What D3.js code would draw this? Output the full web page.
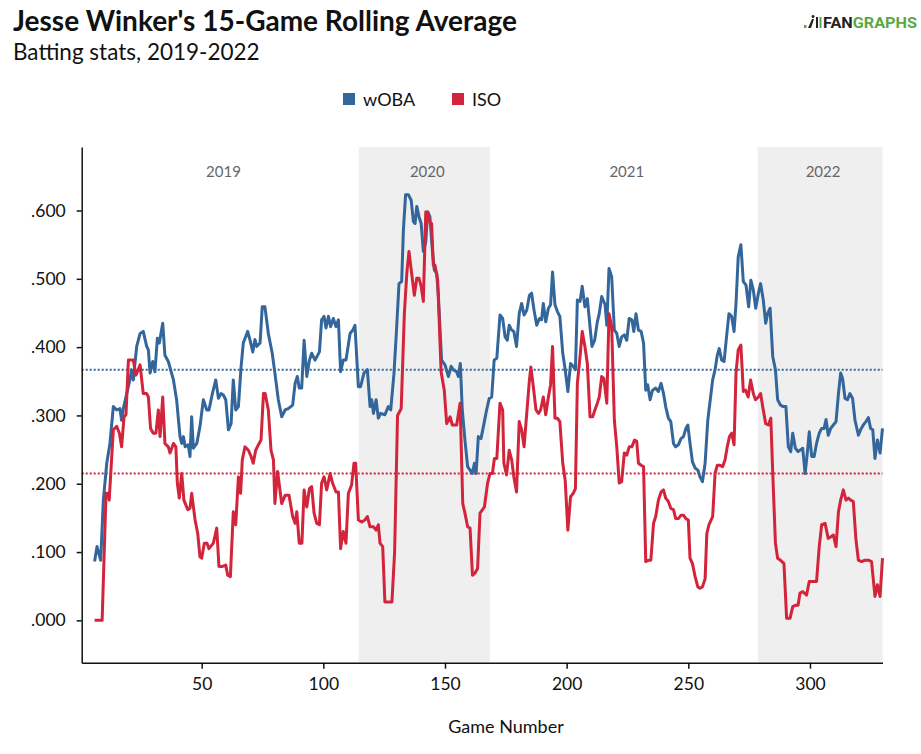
<!DOCTYPE html>
<html>
<head>
<meta charset="utf-8">
<script src="https://cdn.jsdelivr.net/npm/d3@7"></script>
<style>
  html, body { margin: 0; padding: 0; background: #fff; }
  svg { display: block; font-family: Lato, "Noto Sans", sans-serif; }
</style>
</head>
<body>
<svg id="chart" width="921" height="754"></svg>
<script>
// ---------- data ----------
const wobaGame = [6.0,7.0,8.5,9.6,11,12.3,13.7,15.1,16.4,17.1,17.8,19.2,20.5,21.2,21.9,23.3,24.7,26,27.4,28.1,28.8,29.9,30.8,31.8,32.6,34,34.9,36.3,38.4,39.7,41.1,41.8,42.5,
43.2,44.5,45.2,45.9,46.6,48,49.3,50.7,52.1,53,54.4,55.8,56.9,58,58.9,59.9,61,62.1,63,64,65.1,66.2,67.1,68.9,69.9,71,71.9,72.6,74,74.9,76,77.4,79,80.1,81.5,82.9,84.3,85.6,
87.4,88.4,89.3,90.1,91.1,92.1,93.2,94.3,95.2,96.6,98.4,99.3,100.3,101.1,102.1,103,104.1,105.2,106.2,107.1,108.2,109.3,111,112.1,113,114.4,115.3,116.7,118.1,119.2,119.9,120.6,121.7,122.6,123.6,125.3,126.7,127.7,129.0,130.0,
131.1,132.2,132.9,133.8,135,136.1,137,137.7,138.4,139.3,140.2,141.1,142.1,142.9,143.8,144.8,145.6,146.6,147.3,148.6,150,151.4,152.5,153.4,154.8,155.5,156.3,157.1,158.2,159.3,160.3,161.2,162.1,162.8,163.7,164.8,165.8,167.1,168.2,169.2,170.2,171.3,
172.6,173.7,174.7,175.6,176.4,177.4,178.3,179.4,180.5,181.5,182.5,183.6,184.7,185.6,186.6,187.7,188.8,189.7,190.4,191.4,192.5,193.4,194.2,195.2,196.2,197.2,198.4,199.4,200.5,201.6,202.7,203.6,204.4,205.5,206.4,207.5,208.5,209.6,210.4,211.5,212.6,213.4,214.4,
215.8,216.5,217.4,218.5,219.6,220.6,221.6,222.6,223.7,224.7,225.7,226.8,227.6,228.5,229.5,230.6,231.6,232.5,233.3,234.3,235.3,236.6,237.7,238.8,239.8,240.7,241.8,242.8,243.9,244.8,245.9,247,248,249,249.8,250.7,251.7,252.8,253.9,254.8,255.8,256.9,258,
260,261,261.9,262.7,263.7,264.7,265.7,266.7,267.8,268.8,269.6,270.5,271.6,272.6,273.7,274.8,275.7,276.7,277.7,278.8,279.7,280.8,281.8,282.6,283.6,284.7,285.8,286.7,287.9,289,290.1,291.1,292.1,292.9,294,295.1,
297,298,298.9,299.7,300.7,301.7,302.7,303.8,304.8,305.8,306.6,307.5,308.5,309.6,310.7,311.7,312.6,313.4,314.4,315.4,316.4,317.5,318.5,319.9,320.8,321.9,323,324,324.9,325.8,326.7,327.7,328.8,329.8];
const wobaValue = [.086,.108,.088,.176,.230,.259,.313,.308,.310,.293,.310,.332,.352,.367,.352,.401,.420,.423,.401,.396,.362,.379,.364,.413,.406,.435,.388,.379,.352,.323,.269,.259,.269,
.254,.257,.240,.298,.252,.259,.284,.323,.308,.308,.332,.352,.325,.332,.330,.323,.279,.288,.352,.308,.313,.371,.406,.423,.410,.393,.411,.401,.406,.459,.459,.420,.391,.362,.323,.298,.308,.310,
.315,.347,.357,.340,.340,.410,.357,.381,.391,.381,.393,.440,.445,.428,.445,.430,.442,.430,.440,.364,.381,.381,.420,.425,.432,.342,.342,.362,.367,.313,.323,.303,.323,.296,.303,.301,.313,.308,.360,.420,
.493,.496,.571,.623,.623,.615,.584,.581,.606,.591,.581,.540,.554,.598,.591,.542,.513,.508,.474,.381,.374,.357,.372,.367,.364,.357,.376,.308,.264,.225,.220,.215,.230,.215,.269,.266,.284,.308,.325,.327,.381,.384,
.447,.442,.415,.410,.432,.425,.423,.401,.449,.464,.447,.454,.476,.479,.454,.432,.442,.440,.464,.437,.457,.462,.510,.462,.452,.445,.391,.367,.335,.376,.372,.367,.469,.467,.489,.459,.471,.430,.401,.410,.437,.449,.474,
.462,.432,.515,.503,.425,.420,.401,.415,.418,.410,.442,.440,.423,.449,.425,.423,.406,.337,.345,.323,.337,.340,.335,.347,.332,.313,.296,.291,.259,.254,.257,.266,.269,.281,.286,.259,.232,.223,.220,.210,.203,.230,.293,
.352,.367,.388,.398,.381,.379,.415,.449,.445,.423,.464,.532,.550,.496,.491,.459,.498,.484,.457,.479,.493,.469,.435,.449,.457,.386,.367,.323,.315,.313,.313,.254,.247,.274,.252,.247,
.252,.215,.245,.276,.240,.240,.259,.274,.281,.281,.294,.271,.281,.286,.291,.332,.362,.354,.325,.323,.332,.325,.293,.271,.279,.286,.291,.297,.281,.279,.237,.264,.245,.281];

const isoGame = [6.0,9.1,10.7,11.6,12,13.7,15.1,16.2,17.1,18.1,18.9,19.9,21.9,23,24.7,26,27.4,28.1,29,30.1,31.2,32.2,32.9,34,34.9,36.3,37,38.4,39.4,40,40.8,41.8,42.7,
44.3,45.2,45.9,47.3,48.4,49.3,50,51.1,52.2,53,54.8,56.2,57.1,58.5,59.9,60.7,61.8,63,64,65.1,66,66.7,67.8,69.2,70.3,71.2,72.2,73.3,74.4,75.4,76.1,77.4,78.5,79.5,80.1,81.2,82.9,84.3,85.9,
87.4,88.4,89.1,90.1,91.2,92.1,93.2,94.3,95.2,96.2,97.3,98.4,99.3,100.3,101.4,102.8,103.8,105.2,106.2,107.1,108.2,109.3,110.3,111.6,112.6,113.3,114.4,115.8,117.1,118.1,119.2,120.6,121.7,122.6,123.3,124.4,125.3,128.2,129.3,130.5,
132,133.3,134.3,135.2,136.3,137.4,138.4,139.3,140.2,141.1,142.1,142.9,143.9,144.5,145.2,145.9,147,148.4,149.7,150.7,152.1,153,154.8,156.2,157.3,158.2,159.3,160.3,161.3,162.3,163.4,164.4,166.2,167.5,168.5,169.5,170.3,171.3,
172.6,173.7,174.2,175.3,176.4,177.4,178.3,179.4,180.5,181.5,182.5,183.6,184.7,185.3,186.3,187.4,188.4,189.3,190.4,191.4,192.5,193.4,194.2,195.2,196.2,197.2,198.4,199.4,200.5,201.6,202.7,203.6,204.4,205.5,206.4,207.5,208.5,209.6,210.7,211.6,212.6,213.4,214.4,215.3,
216.5,217.4,218.5,219.6,220.6,221.6,222.6,223.7,224.7,225.7,226.8,227.9,228.8,229.5,230.6,231.6,232.5,233.6,234.6,235.7,236.6,237.7,238.8,239.8,240.7,241.8,242.8,243.9,244.8,245.9,247,248,249,250,250.7,251.7,252.8,253.9,254.8,255.8,256.9,257.6,258.5,
260,261,261.9,263,264.1,265.1,266,266.9,267.8,268.8,269.6,270.5,271.6,272.6,273.5,274.6,275.6,276.7,277.6,278.8,279.7,280.8,281.8,282.9,283.9,284.7,285.8,286.7,287.9,289.3,290.4,291.8,292.9,294,295.1,295.9,
297,298.6,299.7,301.4,302.7,303.8,304.8,306.2,307.5,308.5,309.6,310.7,311.7,312.6,313.7,314.8,315.8,316.7,317.8,318.9,319.9,321.2,322.6,324,325.3,326.7,327.7,328.8,329.8];
const isoValue = [0,0,.186,.186,.176,.279,.284,.274,.254,.298,.301,.381,.381,.359,.374,.332,.332,.327,.281,.274,.274,.308,.269,.327,.259,.254,.245,.259,.254,.201,.179,.215,.176,
.162,.164,.186,.147,.127,.093,.091,.113,.113,.105,.113,.135,.079,.079,.081,.066,.064,.159,.140,.210,.186,.235,.254,.249,.240,.230,.249,.257,.264,.332,.332,.308,.249,.235,.171,.218,.171,.183,.183,
.152,.142,.159,.113,.113,.191,.166,.193,.196,.157,.142,.140,.201,.210,.191,.215,.201,.188,.188,.105,.130,.113,.186,.198,.230,.230,.147,.144,.147,.152,.137,.137,.132,.140,.113,.108,.027,.027,.100,.300,
.310,.449,.508,.540,.508,.476,.501,.501,.489,.467,.598,.598,.581,.581,.520,.520,.498,.364,.337,.288,.298,.286,.286,.318,.171,.157,.137,.135,.066,.069,.076,.157,.166,.201,.215,.215,.237,.237,
.318,.308,.230,.213,.249,.235,.210,.188,.291,.279,.254,.303,.352,.371,.342,.308,.303,.308,.327,.301,.327,.345,.401,.296,.296,.291,.230,.205,.132,.181,.186,.193,.347,.386,.423,.401,.376,.298,.298,.308,.318,.327,.357,.354,
.318,.449,.430,.293,.254,.201,.203,.245,.242,.254,.254,.264,.262,.230,.227,.225,.086,.088,.088,.142,.152,.176,.188,.191,.179,.174,.164,.162,.149,.149,.154,.154,.149,.147,.091,.083,.064,.049,.047,.049,.061,.127,.140,
.152,.215,.227,.227,.225,.235,.254,.269,.274,.257,.362,.396,.403,.335,.337,.327,.352,.332,.323,.327,.332,.308,.288,.286,.296,.215,.113,.091,.088,.083,.003,.003,.020,.022,.022,.040,
.042,.037,.057,.057,.057,.108,.140,.142,.120,.122,.125,.108,.159,.176,.191,.176,.179,.176,.174,.118,.088,.086,.088,.088,.086,.035,.052,.035,.091];

const seriesNames = ["wOBA", "ISO"];
const seriesColors = ["#33669b", "#d2243a"];
const leagueAvg = [0.367, 0.215];          // dotted reference lines
const seasonLabels = ["2019", "2020", "2021", "2022"];
const seasonStart = [1, 114.5, 168.5, 278.5];
const seasonEnd = [114.5, 168.5, 278.5, 329.8];
const shadedSeasons = [false, true, false, true];
const xTicks = [50, 100, 150, 200, 250, 300];
const yTicks = [0, 0.1, 0.2, 0.3, 0.4, 0.5, 0.6];

// ---------- layout ----------
const svg = d3.select("#chart");
const plot = { left: 81.7, right: 882.5, top: 147, bottom: 662.7 };

const x = d3.scaleLinear().domain([0.7, 329.8]).range([plot.left, plot.right]);
const y = d3.scaleLinear().domain([-0.062, 0.693]).range([plot.bottom, plot.top]);

// shaded seasons
seasonLabels.forEach((s, i) => {
  if (shadedSeasons[i]) {
    svg.append("rect")
      .attr("x", x(seasonStart[i])).attr("y", plot.top)
      .attr("width", x(seasonEnd[i]) - x(seasonStart[i]))
      .attr("height", plot.bottom - plot.top)
      .attr("fill", "#efefef");
  }
  svg.append("text")
    .attr("x", (x(seasonStart[i]) + x(seasonEnd[i])) / 2 + 3)
    .attr("y", 177)
    .attr("text-anchor", "middle")
    .attr("font-size", 15)
    .attr("fill", "#666")
    .text(s);
});

// reference lines
leagueAvg.forEach((v, i) => {
  svg.append("line")
    .attr("x1", plot.left).attr("x2", plot.right)
    .attr("y1", y(v)).attr("y2", y(v))
    .attr("stroke", seriesColors[i])
    .attr("stroke-width", 2)
    .attr("stroke-dasharray", "2,2");
});

// lines
const lineGen = d3.line().x(d => x(d[0])).y(d => y(d[1]));
const wobaData = wobaGame.map((g, i) => [g, wobaValue[i]]);
const isoData = isoGame.map((g, i) => [g, isoValue[i]]);
[wobaData, isoData].forEach((data, i) => {
  svg.append("path")
    .datum(data)
    .attr("d", lineGen)
    .attr("fill", "none")
    .attr("stroke", seriesColors[i])
    .attr("stroke-width", 3)
    .attr("stroke-linejoin", "round");
});

// axes
const fmt = v => d3.format(".3f")(v).replace(/^0/, "");
const yAxis = svg.append("g")
  .attr("transform", `translate(${plot.left},0)`)
  .call(d3.axisLeft(y).tickValues(yTicks).tickFormat(fmt).tickSize(5).tickSizeOuter(0).tickPadding(11));
const xAxis = svg.append("g")
  .attr("transform", `translate(0,${plot.bottom})`)
  .call(d3.axisBottom(x).tickValues(xTicks).tickFormat(d3.format("d")).tickSize(6).tickSizeOuter(0).tickPadding(9));
[yAxis, xAxis].forEach(a => {
  a.selectAll("text").attr("font-family", "Lato, sans-serif").attr("font-size", 17.5).attr("fill", "#111");
  a.selectAll("line").attr("stroke", "#111").attr("stroke-width", 1.5);
  a.select(".domain").attr("stroke", "#111").attr("stroke-width", 1.5);
});

svg.append("text")
  .attr("x", 506).attr("y", 733)
  .attr("text-anchor", "middle").attr("font-size", 18).attr("fill", "#111")
  .text("Game Number");

// title & subtitle
svg.append("text")
  .attr("x", 13).attr("y", 31)
  .attr("font-size", 28).attr("font-weight", 700).attr("fill", "#111")
  .text("Jesse Winker's 15-Game Rolling Average");
svg.append("text")
  .attr("x", 13).attr("y", 60)
  .attr("font-size", 22.5).attr("fill", "#111")
  .text("Batting stats, 2019-2022");

// legend
const legendX = [343, 452];
seriesNames.forEach((n, i) => {
  svg.append("rect")
    .attr("x", legendX[i]).attr("y", 93).attr("width", 12).attr("height", 12)
    .attr("fill", seriesColors[i]);
  svg.append("text")
    .attr("x", legendX[i] + 20).attr("y", 106)
    .attr("font-size", 18).attr("fill", "#111")
    .text(n);
});

// logo
const logo = svg.append("g").attr("transform", "translate(804,16)");
logo.append("rect").attr("x", 0).attr("y", 9).attr("width", 2.5).attr("height", 3).attr("fill", "#5aa843");
logo.append("path").attr("d", "M4,12 L8,3 L10,3 L7,12 Z M9,2 a1.5,1.5 0 1,1 0.1,0 Z").attr("fill", "#222");
logo.append("rect").attr("x", 12).attr("y", 1).attr("width", 2).attr("height", 11).attr("fill", "#222");
logo.append("rect").attr("x", 15.5).attr("y", 1).attr("width", 2).attr("height", 11).attr("fill", "#5aa843");
const lt = logo.append("text").attr("x", 19).attr("y", 12)
  .attr("font-family", "Roboto, 'Liberation Sans', sans-serif")
  .attr("font-size", 14).attr("font-weight", 700)
  .attr("textLength", 94).attr("lengthAdjust", "spacingAndGlyphs");
lt.append("tspan").attr("fill", "#222").text("FAN");
lt.append("tspan").attr("fill", "#5aa843").text("GRAPHS");
</script>
</body>
</html>
